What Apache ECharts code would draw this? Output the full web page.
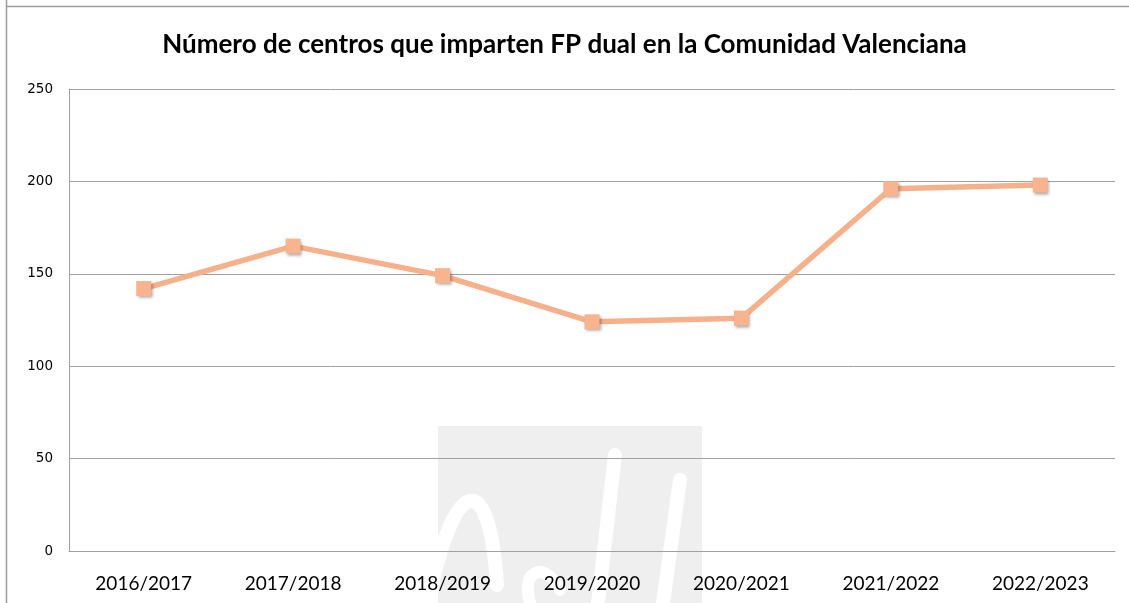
<!DOCTYPE html>
<html>
<head>
<meta charset="utf-8">
<script src="https://cdn.jsdelivr.net/npm/echarts@6/dist/echarts.min.js"></script>
<style>html,body{margin:0;padding:0;background:#fff}#c{width:1129px;height:603px}</style>
</head>
<body>
<div id="c"></div>
<script>
const titleText = 'Número de centros que imparten FP dual en la Comunidad Valenciana';
const categories = ['2016/2017','2017/2018','2018/2019','2019/2020','2020/2021','2021/2022','2022/2023'];
const centros = [142, 165, 149, 124, 126, 196, 198];
const yTicks = [0, 50, 100, 150, 200, 250];

const chart = echarts.init(document.getElementById('c'), null, {renderer:'canvas'});
chart.setOption({
  backgroundColor: '#ffffff',
  animation: false,
  title: {
    text: titleText,
    left: 'center', top: 27,
    textStyle: {fontFamily: 'Lato', fontWeight: 'bold', fontSize: 26, color: '#000'}
  },
  graphic: [
    {type:'line', z:-10, shape:{x1:6.5,y1:0,x2:6.5,y2:603}, style:{stroke:'#9a9a9a', lineWidth:1.5}},
    {type:'line', z:-10, shape:{x1:6,y1:6.5,x2:1129,y2:6.5}, style:{stroke:'#9a9a9a', lineWidth:1.5}},
    {type:'rect', z:-5, shape:{x:438,y:426,width:264,height:177}, style:{fill:'#efefef'}},
    {type:'bezierCurve', z:-4, shape:{x1:428,y1:603,cpx1:455,cpy1:470,cpx2:490,cpy2:470,x2:497,y2:585}, style:{stroke:'#ffffff', lineWidth:14, lineCap:'round', fill:null}},
    {type:'line', z:-4, shape:{x1:615,y1:455,x2:598,y2:603}, style:{stroke:'#ffffff', lineWidth:14, lineCap:'round'}},
    {type:'line', z:-4, shape:{x1:680,y1:480,x2:663,y2:603}, style:{stroke:'#ffffff', lineWidth:14, lineCap:'round'}},
    {type:'bezierCurve', z:-4, shape:{x1:530,y1:603,cpx1:520,cpy1:570,cpx2:545,cpy2:560,x2:560,y2:590}, style:{stroke:'#ffffff', lineWidth:12, lineCap:'round', fill:null}}
  ],
  grid: {left: 69, right: 14, top: 89, bottom: 52},
  xAxis: {
    type: 'category',
    data: categories,
    boundaryGap: true,
    axisLine: {show: true, lineStyle: {color: '#a0a0a0', width: 1}},
    axisTick: {show: false},
    axisLabel: {fontFamily: 'Lato', fontSize: 19, color: '#000', margin: 23}
  },
  yAxis: {
    type: 'value',
    min: 0, max: 250, interval: 50,
    axisLine: {show: true, lineStyle: {color: '#a0a0a0', width: 1}},
    axisTick: {show: false},
    splitLine: {show: true, lineStyle: {color: '#a0a0a0', width: 1}},
    axisLabel: {
      fontFamily: 'DejaVu Sans', fontSize: 13.5, color: '#000', margin: 16,
      formatter: v => yTicks.includes(v) ? String(v) : ''
    }
  },
  series: [{
    type: 'line',
    data: centros,
    symbol: 'rect',
    symbolSize: 15,
    lineStyle: {color: '#f6b08a', width: 5.5},
    itemStyle: {color: '#f7b48f', shadowColor: 'rgba(0,0,0,0.35)', shadowBlur: 3, shadowOffsetX: 1.5, shadowOffsetY: 2},
    emphasis: {disabled: true}
  }]
});
</script>
</body>
</html>
